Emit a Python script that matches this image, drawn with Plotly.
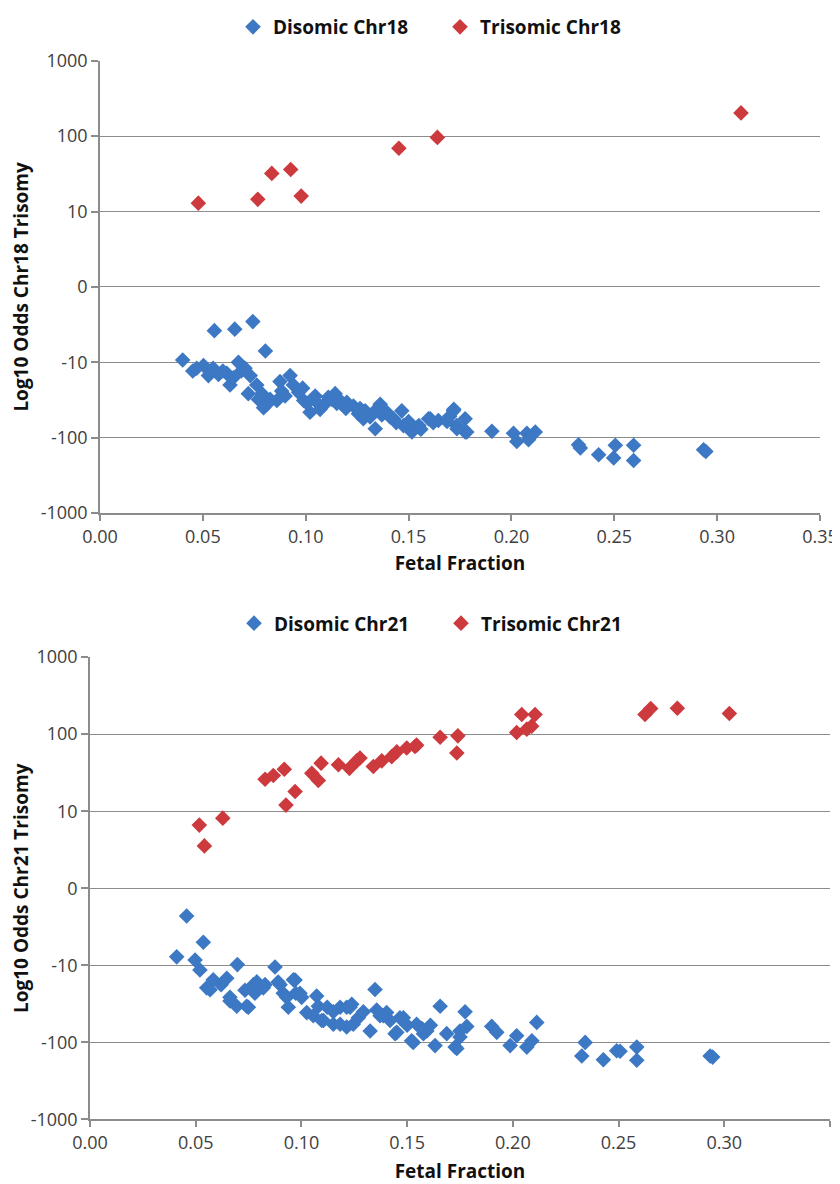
import numpy as np
import plotly.graph_objects as go

# ---- Data (Log10 odds values) ----
fetal_fraction_ticks = [0.00, 0.05, 0.10, 0.15, 0.20, 0.25, 0.30, 0.35]
y_tick_values = [-1000, -100, -10, 0, 10, 100, 1000]
y_tick_labels = ["-1000", "-100", "-10", "0", "10", "100", "1000"]

dis18_ff = [0.0402, 0.0451, 0.0503, 0.0527, 0.0556, 0.0576, 0.0616, 0.0632, 0.0648, 0.0655,
            0.0673, 0.0705, 0.0730, 0.0721, 0.0743, 0.0762, 0.0770, 0.0795, 0.0804, 0.0827,
            0.0860, 0.0875, 0.0900, 0.0924, 0.0940, 0.0965, 0.0990, 0.1021, 0.1046, 0.1070,
            0.1110, 0.1143, 0.1167, 0.1200, 0.1232, 0.1256, 0.1289, 0.1313, 0.1338, 0.1362,
            0.1394, 0.1427, 0.1467, 0.1491, 0.1516, 0.1500, 0.1548, 0.1597, 0.1645, 0.1687,
            0.1718, 0.1734, 0.1775, 0.1775, 0.1905, 0.2010, 0.2026, 0.2075, 0.2083, 0.2116,
            0.2326, 0.2335, 0.2424, 0.2497, 0.2505, 0.2594, 0.2594, 0.2934, 0.2945,
            0.1280, 0.1330, 0.1410, 0.1475, 0.1550, 0.1605, 0.1720, 0.1783, 0.1735, 0.1151,
            0.1087, 0.1007, 0.0985, 0.0883, 0.0812, 0.0787, 0.0687, 0.0597, 0.0550, 0.0470,
            0.1195, 0.1128, 0.1050, 0.1264, 0.1370, 0.1440, 0.1560, 0.1620, 0.1700]
dis18_odds = [-9.7, -13, -11, -15, -5.8, -14.5, -14, -20, -16, -5.6,
              -10, -12, -15, -26, -4.6, -20, -31, -40, -8.5, -31,
              -32, -18, -28, -15, -20, -25, -32, -46, -28, -42,
              -29, -26, -32, -34, -38, -48, -44, -53, -76, -36,
              -46, -56, -44, -69, -84, -61, -72, -56, -59, -61,
              -44, -69, -56, -84, -82, -87, -112, -87, -106, -84,
              -124, -137, -168, -185, -126, -126, -200, -144, -152,
              -56, -46, -53, -69, -69, -56, -42, -84, -76, -35,
              -37, -35, -22, -24, -36, -26, -13, -13, -12, -12,
              -41, -31, -33, -41, -50, -63, -77, -63, -52]

tri18_ff = [0.0478, 0.0767, 0.0835, 0.0927, 0.0978, 0.1453, 0.1640, 0.3116]
tri18_odds = [12.9, 14.5, 32, 36, 16, 69, 96, 203]

dis21_ff = [0.0410, 0.0457, 0.0536, 0.0497, 0.0520, 0.0552, 0.0583, 0.0620, 0.0647, 0.0662,
            0.0694, 0.0697, 0.0741, 0.0733, 0.0773, 0.0780, 0.0828, 0.0875, 0.0890, 0.0914,
            0.0938, 0.0970, 0.0973, 0.1001, 0.1025, 0.1072, 0.1080, 0.1096, 0.1122, 0.1151,
            0.1183, 0.1214, 0.1238, 0.1269, 0.1325, 0.1348, 0.1356, 0.1403, 0.1443, 0.1466,
            0.1529, 0.1545, 0.0568, 0.0662, 0.0749, 0.0789, 0.0820, 0.0899, 0.0930, 0.0962,
            0.0993, 0.1056, 0.1104, 0.1151, 0.1183, 0.1230, 0.1245, 0.1214, 0.1293, 0.1372,
            0.1419, 0.1451, 0.1482, 0.1521, 0.1593, 0.1632, 0.1656, 0.1687, 0.1727, 0.1750,
            0.1774, 0.1782, 0.1900, 0.1924, 0.1987, 0.2018, 0.2066, 0.2090, 0.2113, 0.2342,
            0.2326, 0.2428, 0.2491, 0.2507, 0.2586, 0.2586, 0.2933, 0.2945, 0.1387, 0.1577,
            0.1750, 0.1735, 0.1610, 0.1500, 0.1570]
dis21_odds = [-8.9, -3.6, -7, -9.3, -11.5, -19.6, -15.4, -17.8, -14.7, -26,
              -34, -9.9, -34, -21, -17.8, -23, -17.8, -10.5, -16.5, -23,
              -35, -15.5, -23, -26, -41, -25, -34, -52, -35, -58,
              -35, -63, -32, -48, -71, -20.6, -38, -41, -77, -48,
              -100, -58, -20.7, -29, -35, -16.4, -19.6, -17.8, -26, -15.4,
              -23, -45, -52, -40, -58, -35, -58, -35, -40, -45,
              -52, -74, -48, -95, -71, -110, -34, -77, -115, -85,
              -40, -62, -62, -74, -110, -82, -115, -95, -55, -100,
              -150, -168, -128, -130, -115, -170, -150, -155, -45, -77,
              -71, -120, -60, -60, -66]

tri21_ff = [0.0517, 0.0541, 0.0628, 0.0828, 0.0867, 0.0919, 0.0927, 0.0970, 0.1049, 0.1080,
            0.1093, 0.1175, 0.1227, 0.1262, 0.1277, 0.1340, 0.1380, 0.1427, 0.1451, 0.1498,
            0.1537, 0.1545, 0.1656, 0.1740, 0.1735, 0.2018, 0.2042, 0.2066, 0.2089, 0.2105,
            0.2625, 0.2652, 0.2778, 0.3024]
tri21_odds = [8.2, 5.5, 9.1, 26, 29, 35, 12, 18, 31, 25,
              42, 40, 36, 45, 49, 38, 45, 51, 59, 66,
              69, 72, 91, 95, 57, 105, 180, 116, 127, 180,
              180, 215, 217, 185]


def sym(values):
    """Excel-like symmetric log scale: linear within +-10, log10 beyond."""
    v = np.asarray(values, dtype=float)
    out = np.where(np.abs(v) >= 10, np.sign(v) * np.log10(np.maximum(np.abs(v), 1e-12)), v / 10.0)
    return out


BLUE = "#3C78C3"
RED = "#CC3A3E"
GRID = "#8C8C8C"
FONT = "Open Sans"
MS = 12

# page body has an 8px margin; figure is sized so that it ends at the window edge
OFF = 8
W, H = 840 - OFF, 1184 - OFF

fig = go.Figure()

fig.add_trace(go.Scatter(x=dis18_ff, y=sym(dis18_odds), mode="markers", name="<b>Disomic Chr18</b>",
                         marker=dict(symbol="diamond", size=MS, color=BLUE),
                         xaxis="x", yaxis="y", legend="legend"))
fig.add_trace(go.Scatter(x=tri18_ff, y=sym(tri18_odds), mode="markers", name="<b>Trisomic Chr18</b>",
                         marker=dict(symbol="diamond", size=MS, color=RED),
                         xaxis="x", yaxis="y", legend="legend"))
fig.add_trace(go.Scatter(x=dis21_ff, y=sym(dis21_odds), mode="markers", name="<b>Disomic Chr21</b>",
                         marker=dict(symbol="diamond", size=MS, color=BLUE),
                         xaxis="x2", yaxis="y2", legend="legend2"))
fig.add_trace(go.Scatter(x=tri21_ff, y=sym(tri21_odds), mode="markers", name="<b>Trisomic Chr21</b>",
                         marker=dict(symbol="diamond", size=MS, color=RED),
                         xaxis="x2", yaxis="y2", legend="legend2"))


def xaxis_cfg(left, right, anchor, standoff):
    return dict(
        domain=[(left - OFF) / W, (right - OFF) / W], anchor=anchor, range=[0, 0.35],
        tickvals=fetal_fraction_ticks, ticktext=[f"{t:.2f}" for t in fetal_fraction_ticks],
        showgrid=False, zeroline=False, showline=True, linecolor=GRID, linewidth=1.5,
        ticks="outside", ticklen=6, tickcolor=GRID, tickwidth=1.5,
        tickfont=dict(family=FONT, size=18, color="#404040"),
        title=dict(text="<b>Fetal Fraction</b>", font=dict(family=FONT, size=19, color="#111"),
                   standoff=standoff),
        automargin=False, fixedrange=True,
    )


def yaxis_cfg(top, bottom, anchor, title, standoff):
    return dict(
        domain=[1 - (bottom - OFF) / H, 1 - (top - OFF) / H], anchor=anchor, range=[-3, 3],
        tickvals=sym(y_tick_values), ticktext=y_tick_labels,
        showgrid=True, gridcolor=GRID, gridwidth=1.3, zeroline=False,
        showline=True, linecolor=GRID, linewidth=1.5,
        ticks="outside", ticklen=7, tickcolor=GRID, tickwidth=1.5,
        tickfont=dict(family=FONT, size=18, color="#404040"),
        title=dict(text=f"<b>{title}</b>", font=dict(family=FONT, size=19, color="#111"),
                   standoff=standoff),
        automargin=False, fixedrange=True,
    )


legend_common = dict(orientation="h", xanchor="center", yanchor="middle",
                     font=dict(family=FONT, size=19, color="#111"), itemwidth=30,
                     entrywidth=162, entrywidthmode="pixels", bgcolor="rgba(0,0,0,0)")

fig.update_layout(
    width=W, height=H,
    margin=dict(l=0, r=0, t=0, b=0),
    paper_bgcolor="white", plot_bgcolor="white",
    xaxis=xaxis_cfg(100, 820, "y", 10),
    yaxis=yaxis_cfg(52, 508, "x", "Log10 Odds Chr18 Trisomy", 14),
    xaxis2=xaxis_cfg(90, 830, "y2", 12),
    yaxis2=yaxis_cfg(653, 1119, "x2", "Log10 Odds Chr21 Trisomy", 8),
    legend=dict(x=(440 - OFF) / W, y=1 - (18 - OFF) / H, **legend_common),
    legend2=dict(x=(441 - OFF) / W, y=1 - (619 - OFF) / H, **legend_common),
    showlegend=True,
)

fig.write_html("out.html")
